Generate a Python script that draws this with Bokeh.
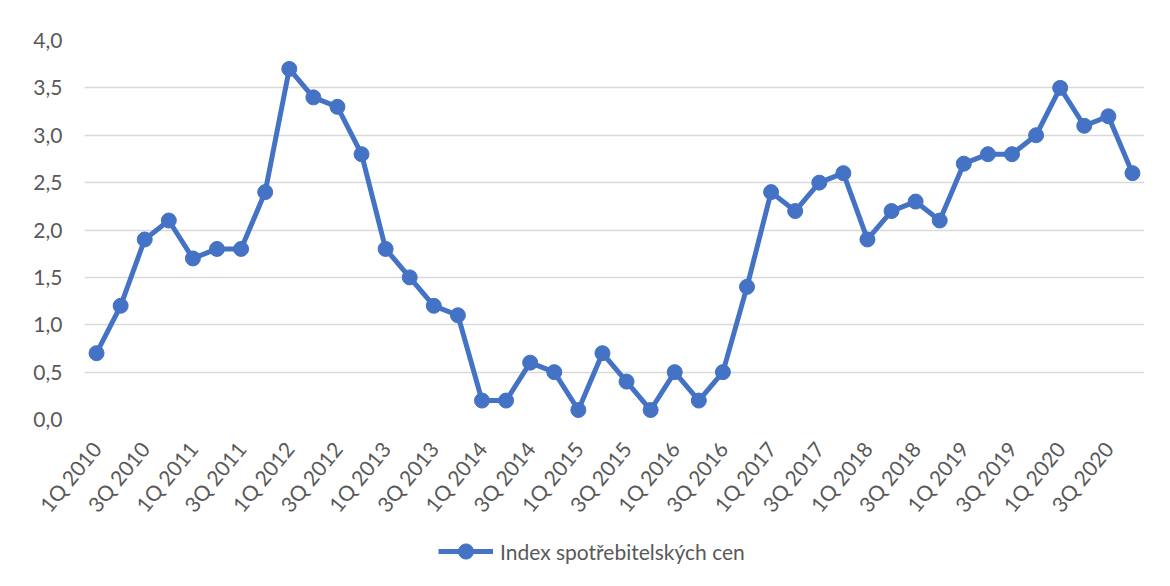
from bokeh.plotting import figure
from bokeh.layouts import column
from bokeh.models import Range1d, FixedTicker, Legend, LegendItem, ColumnDataSource
from bokeh.embed import file_html
from bokeh.resources import INLINE

quarters = [f"{q}Q {y}" for y in range(2010, 2021) for q in (1, 2, 3, 4)]
values = [0.7, 1.2, 1.9, 2.1,
          1.7, 1.8, 1.8, 2.4,
          3.7, 3.4, 3.3, 2.8,
          1.8, 1.5, 1.2, 1.1,
          0.2, 0.2, 0.6, 0.5,
          0.1, 0.7, 0.4, 0.1,
          0.5, 0.2, 0.5, 1.4,
          2.4, 2.2, 2.5, 2.6,
          1.9, 2.2, 2.3, 2.1,
          2.7, 2.8, 2.8, 3.0,
          3.5, 3.1, 3.2, 2.6]
y_ticks = [0.0, 0.5, 1.0, 1.5, 2.0, 2.5, 3.0, 3.5, 4.0]
y_tick_labels = ["0,0", "0,5", "1,0", "1,5", "2,0", "2,5", "3,0", "3,5", "4,0"]
series_name = "Index spotřebitelských cen"

FONT = "Lato"
GRAY = "#595959"
BLUE = "#4472C4"
W = 1162

idx = list(range(len(quarters)))
src = ColumnDataSource(dict(i=idx, q=quarters, v=values))

p = figure(width=W, height=529, output_backend="svg", toolbar_location=None,
           x_range=Range1d(-0.5, len(quarters) - 0.5),
           y_range=Range1d(0, 4),
           min_border_left=84, min_border_right=18, min_border_top=40, min_border_bottom=110)
p.outline_line_color = None

p.line("i", "v", source=src, line_color=BLUE, line_width=5, line_join="round")
p.scatter("i", "v", source=src, size=15, fill_color=BLUE, line_color=BLUE)

p.yaxis.ticker = FixedTicker(ticks=y_ticks)
p.yaxis.major_label_overrides = {t: l for t, l in zip(y_ticks, y_tick_labels)}
shown = [i for i, q in enumerate(quarters) if q.startswith(("1Q", "3Q"))]
p.xaxis.ticker = FixedTicker(ticks=shown)
p.xaxis.major_label_overrides = {i: quarters[i] for i in shown}
for ax in (p.xaxis[0], p.yaxis[0]):
    ax.axis_line_color = None
    ax.major_tick_line_color = None
    ax.minor_tick_line_color = None
    ax.major_tick_out = 0
    ax.major_tick_in = 0
    ax.major_label_text_font = FONT
    ax.major_label_text_color = GRAY
p.yaxis.major_label_text_font_size = "21px"
p.xaxis.major_label_text_font_size = "21px"
p.yaxis.major_label_standoff = 22
p.xaxis.major_label_standoff = 25
p.xaxis.major_label_orientation = 0.88

p.xgrid.grid_line_color = None
p.ygrid.grid_line_color = "#d9d9d9"
p.ygrid.grid_line_width = 1.5

# legend strip underneath: same data, ranges chosen so nothing of it is in view
lg = figure(width=W, height=49, output_backend="svg", toolbar_location=None,
            x_range=Range1d(1000, 1001), y_range=Range1d(1000, 1001),
            min_border=0, min_border_left=84, min_border_right=18, min_border_top=0, min_border_bottom=0)
lg.axis.visible = False
lg.grid.visible = False
lg.outline_line_color = None
l1 = lg.line("i", "v", source=src, line_color=BLUE, line_width=5)
l2 = lg.scatter("i", "v", source=src, size=15, fill_color=BLUE, line_color=BLUE)
legend = Legend(items=[LegendItem(label=series_name, renderers=[l1, l2])],
                location=(354, 8), orientation="horizontal",
                label_text_font=FONT, label_text_font_size="21px", label_text_color=GRAY,
                glyph_width=55, glyph_height=38, label_standoff=7, padding=0, margin=0,
                border_line_color=None, background_fill_alpha=0)
lg.add_layout(legend, "center")

layout = column(p, lg, spacing=0)
open("out.html", "w").write(file_html(layout, INLINE))
